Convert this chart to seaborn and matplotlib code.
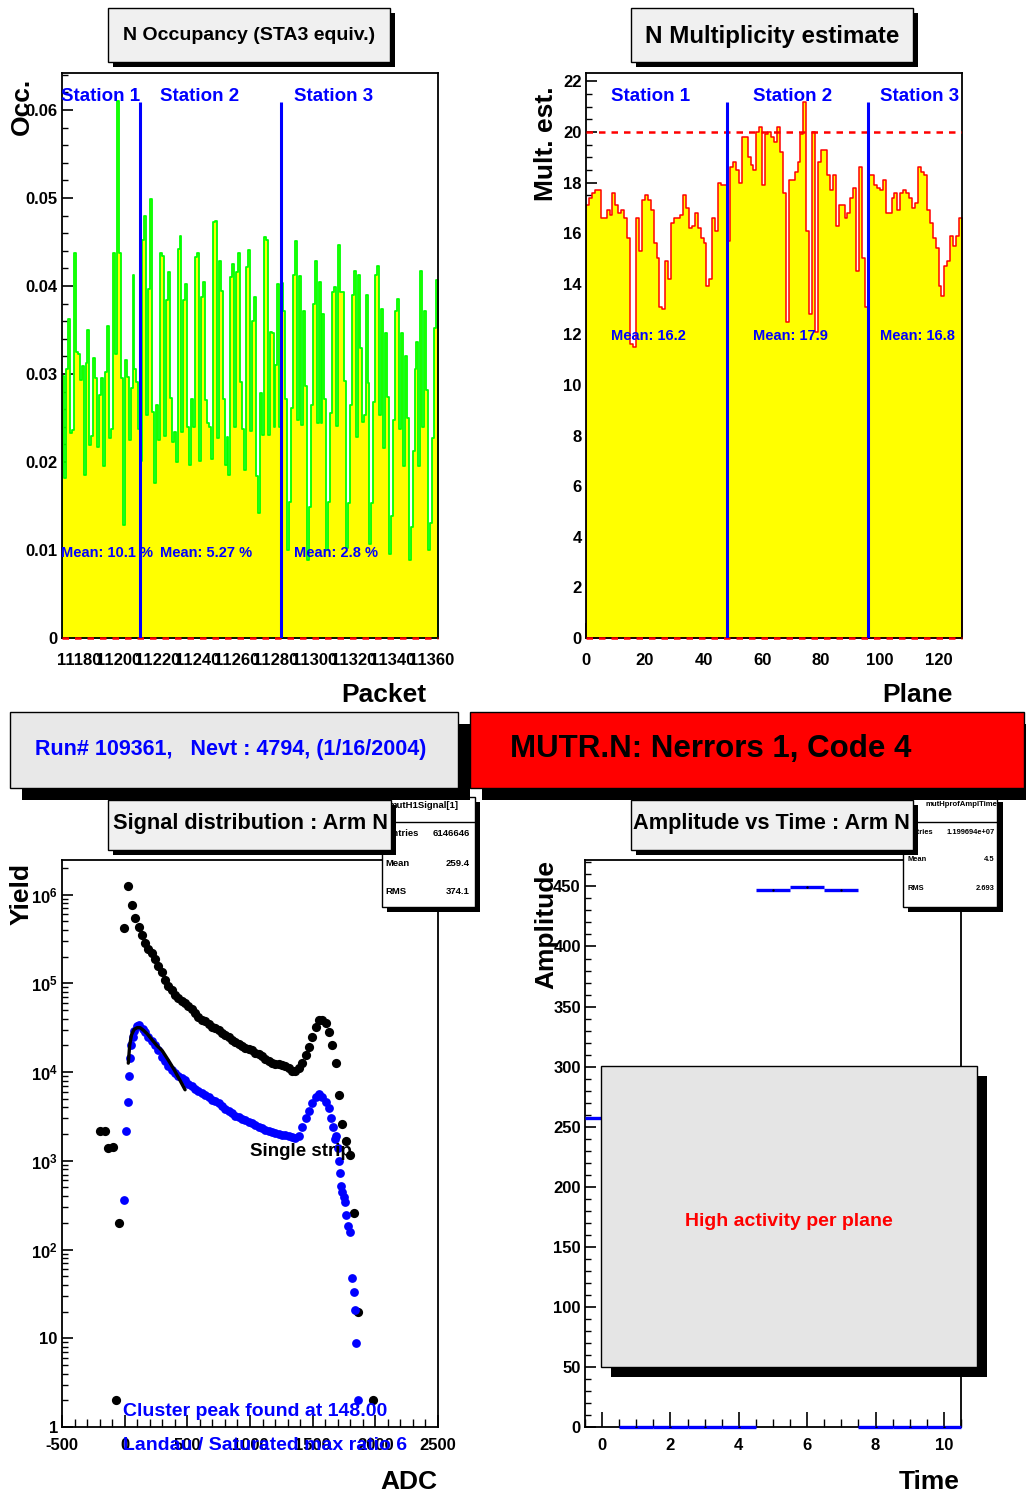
import numpy as np
import pandas as pd
import matplotlib
matplotlib.use("Agg")
import matplotlib.pyplot as plt
from matplotlib.patches import Rectangle
from matplotlib.ticker import MultipleLocator, FuncFormatter, LogLocator, NullFormatter
import seaborn as sns

# ---------------------------------------------------------------- data
# occupancy per packet, one list per station
first_packet = 11171
occ_sta1 = [0.0298, 0.0182, 0.0306, 0.0362, 0.0233, 0.0236, 0.0437, 0.0325, 0.0323, 0.0293,
            0.0309, 0.0185, 0.0312, 0.0350, 0.0219, 0.0230, 0.0318, 0.0295, 0.0217, 0.0276,
            0.0295, 0.0195, 0.0302, 0.0355, 0.0227, 0.0238, 0.0437, 0.0323, 0.0610, 0.0437,
            0.0295, 0.0128, 0.0316, 0.0297, 0.0225, 0.0284, 0.0413, 0.0306, 0.0291, 0.0238]
occ_sta2 = [0.0201, 0.0452, 0.0479, 0.0253, 0.0397, 0.0499, 0.0257, 0.0176, 0.0265, 0.0225,
            0.0438, 0.0434, 0.0230, 0.0384, 0.0416, 0.0273, 0.0223, 0.0234, 0.0200, 0.0442,
            0.0457, 0.0234, 0.0384, 0.0402, 0.0240, 0.0197, 0.0272, 0.0240, 0.0433, 0.0437,
            0.0201, 0.0388, 0.0404, 0.0270, 0.0244, 0.0240, 0.0203, 0.0473, 0.0474, 0.0227,
            0.0428, 0.0394, 0.0272, 0.0197, 0.0228, 0.0185, 0.0410, 0.0425, 0.0240, 0.0416,
            0.0438, 0.0291, 0.0238, 0.0191, 0.0422, 0.0441, 0.0235, 0.0360, 0.0388, 0.0184,
            0.0142, 0.0278, 0.0231, 0.0456, 0.0452, 0.0231, 0.0348, 0.0346, 0.0240, 0.0310,
            0.0402, 0.0240]
occ_sta3 = [0.0403, 0.0372, 0.0272, 0.0100, 0.0155, 0.0261, 0.0413, 0.0451, 0.0248, 0.0411,
            0.0242, 0.0371, 0.0286, 0.0089, 0.0149, 0.0265, 0.0380, 0.0428, 0.0244, 0.0405,
            0.0244, 0.0368, 0.0272, 0.0100, 0.0154, 0.0256, 0.0393, 0.0399, 0.0241, 0.0446,
            0.0393, 0.0393, 0.0292, 0.0102, 0.0153, 0.0265, 0.0390, 0.0417, 0.0228, 0.0413,
            0.0330, 0.0245, 0.0253, 0.0390, 0.0290, 0.0107, 0.0153, 0.0268, 0.0413, 0.0423,
            0.0253, 0.0374, 0.0216, 0.0346, 0.0274, 0.0096, 0.0139, 0.0248, 0.0371, 0.0385,
            0.0238, 0.0347, 0.0195, 0.0320, 0.0250, 0.0089, 0.0126, 0.0213, 0.0306, 0.0336,
            0.0196, 0.0417, 0.0240, 0.0372, 0.0282, 0.0100, 0.0131, 0.0227, 0.0352, 0.0407]
occ_station_means = ["Mean: 10.1 %", "Mean: 5.27 %", "Mean: 2.8 %"]

# multiplicity estimate per plane
mult_sta1 = [17.1, 17.4, 17.6, 17.7, 17.7, 16.6, 16.6, 16.9, 16.7, 17.6,
             17.1, 16.8, 16.9, 16.6, 15.8, 11.6, 11.5, 16.6, 15.3, 17.3,
             17.5, 17.3, 16.9, 15.6, 15.0, 13.1, 13.0, 14.9, 14.2, 16.4,
             16.6, 16.6, 16.7, 17.5, 17.0, 16.2, 16.3, 16.8, 16.2, 15.8,
             15.6, 13.9, 14.2, 16.6, 16.1, 18.0, 17.9, 17.9]
mult_sta2 = [15.7, 18.6, 18.8, 18.5, 18.0, 19.8, 19.8, 19.0, 18.7, 18.5,
             20.0, 20.2, 17.9, 19.9, 20.0, 19.8, 19.6, 20.2, 19.2, 17.6,
             12.5, 18.1, 18.1, 18.4, 18.8, 19.9, 21.2, 16.1, 12.8, 20.0,
             12.1, 18.8, 19.3, 19.3, 18.3, 17.7, 18.3, 16.3, 17.1, 17.1,
             16.6, 16.8, 17.4, 17.8, 14.5, 18.6, 15.0, 13.1]
mult_sta3 = [18.3, 18.3, 17.9, 17.8, 17.7, 18.1, 16.8, 16.8, 17.4, 17.6,
             16.9, 17.6, 17.7, 17.6, 17.4, 17.0, 17.2, 18.6, 18.4, 18.3,
             16.9, 16.4, 15.8, 15.4, 13.9, 13.5, 14.7, 14.9, 15.9, 15.5,
             15.9, 16.6]
mult_station_means = ["Mean: 16.2", "Mean: 17.9", "Mean: 16.8"]
mult_threshold = 20.0

# signal distribution: ADC bin and log10(yield)
strip_adc = [-197, -157, -130, -95, -69, -42, -5, 25, 57, 86, 117, 136, 163, 189, 216, 243,
             269, 296, 323, 349, 376, 403, 429, 456, 483, 509, 536, 563, 589, 616, 643, 669,
             696, 723, 749, 776, 803, 829, 856, 883, 909, 936, 963, 989, 1016, 1043, 1069,
             1096, 1123, 1149, 1176, 1203, 1229, 1256, 1283, 1309, 1336, 1363, 1389, 1416,
             1443, 1469, 1496, 1523, 1549, 1576, 1603, 1629, 1656, 1683, 1708, 1737, 1769,
             1801, 1833, 1859, 1981]
strip_log_yield = [3.33, 3.33, 3.14, 3.16, 0.30, 2.30, 5.62, 6.10, 5.88, 5.73, 5.63, 5.543,
                   5.45, 5.39, 5.337, 5.27, 5.20, 5.13, 5.036, 4.97, 4.92, 4.867, 4.83, 4.80,
                   4.78, 4.745, 4.706, 4.66, 4.62, 4.59, 4.57, 4.54, 4.51, 4.495, 4.47, 4.445,
                   4.42, 4.39, 4.365, 4.34, 4.315, 4.29, 4.275, 4.26, 4.245, 4.22, 4.20, 4.175,
                   4.15, 4.12, 4.105, 4.09, 4.085, 4.08, 4.07, 4.04, 4.01, 4.015, 4.041, 4.10,
                   4.19, 4.28, 4.40, 4.51, 4.585, 4.59, 4.55, 4.45, 4.30, 4.097, 3.74, 3.41,
                   3.22, 3.07, 2.41, 1.30, 0.30]
cluster_adc = [-3, 11, 27, 35, 43, 51, 64, 77, 96, 117, 144, 163, 189, 216, 243, 269, 296,
               323, 349, 376, 403, 429, 456, 483, 509, 536, 563, 589, 616, 643, 669, 696, 723,
               749, 776, 803, 829, 856, 883, 909, 936, 963, 989, 1016, 1043, 1069, 1096, 1123,
               1149, 1176, 1203, 1229, 1256, 1283, 1309, 1336, 1363, 1389, 1416, 1443, 1469,
               1496, 1523, 1549, 1576, 1603, 1627, 1646, 1662, 1675, 1688, 1699, 1710, 1715,
               1726, 1737, 1747, 1755, 1769, 1780, 1796, 1815, 1828, 1836, 1844, 1858]
cluster_log_yield = [2.56, 3.34, 3.66, 3.95, 4.16, 4.31, 4.40, 4.465, 4.52, 4.53, 4.49, 4.45,
                     4.39, 4.35, 4.30, 4.25, 4.17, 4.12, 4.07, 4.02, 3.99, 3.96, 3.93, 3.91,
                     3.87, 3.84, 3.81, 3.785, 3.76, 3.74, 3.72, 3.69, 3.675, 3.655, 3.62, 3.585,
                     3.56, 3.535, 3.51, 3.49, 3.475, 3.455, 3.44, 3.425, 3.40, 3.38, 3.365,
                     3.35, 3.335, 3.32, 3.31, 3.30, 3.29, 3.285, 3.275, 3.265, 3.255, 3.28,
                     3.38, 3.48, 3.56, 3.65, 3.72, 3.75, 3.72, 3.66, 3.59, 3.48, 3.38, 3.25,
                     3.28, 3.14, 3.00, 2.86, 2.72, 2.65, 2.59, 2.53, 2.39, 2.27, 2.20, 1.68,
                     1.52, 1.32, 0.95, 0.30]
landau_adc = [29, 40, 55, 75, 100, 123, 150, 180, 220, 256, 300, 350, 389, 440, 482]
landau_log_yield = [4.10, 4.30, 4.42, 4.48, 4.50, 4.50, 4.47, 4.43, 4.36, 4.30, 4.24, 4.13,
                    4.04, 3.91, 3.80]

# amplitude profile vs time sample
time_bins = [0, 1, 2, 3, 4, 5, 6, 7, 8, 9, 10]
ampl_mean = [257.0, 0, 0, 0, 0, 446.7, 449.2, 446.9, 0, 0, 0]

# ---------------------------------------------------------------- style
sns.set_theme(style="white")
plt.rcParams['font.family'] = ['Liberation Sans', 'DejaVu Sans']
plt.rcParams['font.weight'] = 'bold'
plt.rcParams['text.color'] = 'black'
plt.rcParams['axes.labelcolor'] = 'black'
plt.rcParams['xtick.color'] = 'black'
plt.rcParams['ytick.color'] = 'black'
plt.rcParams['axes.unicode_minus'] = False
plt.rcParams['mathtext.fontset'] = 'custom'
plt.rcParams['mathtext.rm'] = 'Liberation Sans:bold'
plt.rcParams['mathtext.bf'] = 'Liberation Sans:bold'
plt.rcParams['mathtext.it'] = 'Liberation Sans:bold'

W, H = 1026, 1495
fig = plt.figure(figsize=(W / 100, H / 100), dpi=100)
fig.patch.set_facecolor('white')

BLUE = '#0000ff'
RED = '#ff0000'
YELLOW = '#ffff00'
GREEN = '#00ff00'


def ax_px(x0, y0, x1, y1):
    return fig.add_axes([x0 / W, 1 - y1 / H, (x1 - x0) / W, (y1 - y0) / H])


def rect_px(x0, y0, x1, y1, face, edge='black', lw=1.0, z=5):
    r = Rectangle((x0 / W, 1 - y1 / H), (x1 - x0) / W, (y1 - y0) / H,
                  transform=fig.transFigure, facecolor=face, edgecolor=edge,
                  linewidth=lw, zorder=z)
    fig.add_artist(r)
    return r


def pave(x0, y0, x1, y1, face, dx=5, dy=5, z=5):
    rect_px(x0 + dx, y0 + dy, x1 + dx, y1 + dy, 'black', edge='none', lw=0, z=z)
    return rect_px(x0, y0, x1, y1, face, z=z + 0.1)


def text_px(x, y, s, z=7, **kw):
    kw.setdefault('color', 'black')
    return fig.text(x / W, 1 - y / H, s, zorder=z, **kw)


def style_axes(ax, xpad=8):
    for s in ax.spines.values():
        s.set_color('black')
        s.set_linewidth(1.3)
        s.set_visible(True)
    ax.set_facecolor('white')
    ax.grid(False)
    ax.tick_params(axis='both', which='both', direction='in', top=False, right=False,
                   bottom=True, left=True, colors='black', labelsize=12)
    ax.tick_params(axis='y', which='major', length=8, width=1.2, pad=3)
    ax.tick_params(axis='y', which='minor', length=4, width=1.0)
    ax.tick_params(axis='x', which='major', length=11, width=1.2, pad=xpad)
    ax.tick_params(axis='x', which='minor', length=5.5, width=1.0)
    ax.set_xlabel('')
    ax.set_ylabel('')


# ---------------------------------------------------------------- occupancy
occ = np.array(occ_sta1 + occ_sta2 + occ_sta3)
n_occ = len(occ)
occ_df = pd.DataFrame({'packet': first_packet + np.arange(n_occ) + 0.5, 'occupancy': occ})
occ_bounds = [first_packet + len(occ_sta1), first_packet + len(occ_sta1) + len(occ_sta2)]

ax1 = ax_px(62, 73, 438, 638)
sns.histplot(data=occ_df, x='packet', weights='occupancy', binwidth=1,
             binrange=(first_packet, first_packet + n_occ), element='step',
             fill=True, color=YELLOW, edgecolor=GREEN, linewidth=1.3, alpha=1, ax=ax1)
style_axes(ax1, xpad=10.5)
ax1.set_xlim(first_packet, first_packet + n_occ)
ax1.set_ylim(0, 0.0642)
ax1.xaxis.set_major_locator(MultipleLocator(20))
ax1.xaxis.set_minor_locator(MultipleLocator(20 / 6))
ax1.yaxis.set_major_locator(MultipleLocator(0.01))
ax1.yaxis.set_minor_locator(MultipleLocator(0.002))
ax1.yaxis.set_major_formatter(FuncFormatter(lambda v, p: '0' if abs(v) < 1e-9 else f'{v:.2f}'))
ax1.vlines(occ_bounds, 0, 0.0609, color=BLUE, linewidth=2.2, zorder=4)
ax1.axhline(0, color=RED, linewidth=1.8, dashes=(2.6, 2.4), zorder=3.5, clip_on=False)
occ_label_x = [first_packet - 0.5, occ_bounds[0] + 10, occ_bounds[1] + 6.4]
for i, xl in enumerate(occ_label_x):
    ax1.text(xl, 0.0615, f'Station {i + 1}', color=BLUE, fontsize=13.5,
             fontweight='bold', ha='left', va='center', zorder=5)
    ax1.text(xl, 0.00966, occ_station_means[i], color=BLUE, fontsize=10.5,
             fontweight='bold', ha='left', va='center', zorder=5)

# ---------------------------------------------------------------- multiplicity
mult = np.array(mult_sta1 + mult_sta2 + mult_sta3)
n_mult = len(mult)
mult_df = pd.DataFrame({'plane': np.arange(n_mult) + 0.5, 'multiplicity': mult})
mult_bounds = [len(mult_sta1), len(mult_sta1) + len(mult_sta2)]

ax2 = ax_px(586, 73, 962, 638)
sns.histplot(data=mult_df, x='plane', weights='multiplicity', binwidth=1,
             binrange=(0, n_mult), element='step',
             fill=True, color=YELLOW, edgecolor=RED, linewidth=1.1, alpha=1, ax=ax2)
style_axes(ax2, xpad=10.5)
ax2.set_xlim(0, n_mult)
ax2.set_ylim(0, 22.33)
ax2.xaxis.set_major_locator(MultipleLocator(20))
ax2.xaxis.set_minor_locator(MultipleLocator(5))
ax2.yaxis.set_major_locator(MultipleLocator(2))
ax2.yaxis.set_minor_locator(MultipleLocator(0.5))
ax2.vlines(mult_bounds, 0, 21.2, color=BLUE, linewidth=2.2, zorder=4)
ax2.axhline(mult_threshold, color=RED, linewidth=1.8, dashes=(2.6, 2.4), zorder=3.5)
ax2.axhline(0, color=RED, linewidth=1.8, dashes=(2.6, 2.4), zorder=3.5, clip_on=False)
mult_label_x = [8.5, mult_bounds[0] + 8.8, mult_bounds[1] + 4.0]
for i, xl in enumerate(mult_label_x):
    ax2.text(xl, 21.4, f'Station {i + 1}', color=BLUE, fontsize=13.5,
             fontweight='bold', ha='left', va='center', zorder=5)
    ax2.text(xl, 11.95, mult_station_means[i], color=BLUE, fontsize=10.5,
             fontweight='bold', ha='left', va='center', zorder=5)

# ---------------------------------------------------------------- signal distribution
strip_df = pd.DataFrame({'adc': strip_adc, 'yield': np.power(10.0, strip_log_yield)})
cluster_df = pd.DataFrame({'adc': cluster_adc, 'yield': np.power(10.0, cluster_log_yield)})
landau_df = pd.DataFrame({'adc': landau_adc, 'yield': np.power(10.0, landau_log_yield)})

ax3 = ax_px(62, 860, 438, 1427)
ax3.set_yscale('log')
sns.scatterplot(data=strip_df, x='adc', y='yield', color='black', s=44, linewidth=0,
                ax=ax3, zorder=3)
sns.scatterplot(data=cluster_df, x='adc', y='yield', color=BLUE, s=40, linewidth=0,
                ax=ax3, zorder=4)
sns.lineplot(data=landau_df, x='adc', y='yield', color='black', linewidth=2.4, ax=ax3, zorder=5)
style_axes(ax3)
ax3.set_xlim(-500, 2500)
ax3.set_ylim(1, 2.45e6)
ax3.xaxis.set_major_locator(MultipleLocator(500))
ax3.xaxis.set_minor_locator(MultipleLocator(100))
ax3.tick_params(axis='x', which='major', length=9)
ax3.tick_params(axis='x', which='minor', length=6)
ax3.yaxis.set_major_locator(LogLocator(base=10, numticks=10))
ax3.yaxis.set_minor_locator(LogLocator(base=10, subs=np.arange(2, 10), numticks=20))
ax3.yaxis.set_minor_formatter(NullFormatter())


def log_label(v, pos):
    e = int(round(np.log10(v)))
    if e == 0:
        return '1'
    if e == 1:
        return '10'
    return r'$\mathbf{10^{%d}}$' % e


ax3.yaxis.set_major_formatter(FuncFormatter(log_label))

# ---------------------------------------------------------------- amplitude vs time
ax4 = ax_px(585, 860, 961, 1427)
tb = np.array(time_bins, dtype=float)
ax4.hlines(ampl_mean, tb - 0.5, tb + 0.5, color=BLUE, linewidth=2.4, zorder=4, clip_on=False)
sns.scatterplot(x=time_bins, y=ampl_mean, color='black', s=3, linewidth=0, ax=ax4, zorder=5)
style_axes(ax4)
ax4.set_xlim(-0.5, 10.5)
ax4.set_ylim(0, 472)
ax4.xaxis.set_major_locator(MultipleLocator(2))
ax4.xaxis.set_minor_locator(MultipleLocator(0.5))
ax4.yaxis.set_major_locator(MultipleLocator(50))
ax4.yaxis.set_minor_locator(MultipleLocator(10))

# ---------------------------------------------------------------- axis titles
text_px(22, 78, 'Occ.', rotation=90, ha='center', va='top', fontsize=19, fontweight='bold')
text_px(546, 86, 'Mult. est.', rotation=90, ha='center', va='top', fontsize=19, fontweight='bold')
text_px(22, 863, 'Yield', rotation=90, ha='center', va='top', fontsize=19, fontweight='bold')
text_px(546, 860, 'Amplitude', rotation=90, ha='center', va='top', fontsize=19, fontweight='bold')
text_px(426, 695, 'Packet', ha='right', va='center', fontsize=19, fontweight='bold')
text_px(953, 695, 'Plane', ha='right', va='center', fontsize=19, fontweight='bold')
text_px(437, 1482, 'ADC', ha='right', va='center', fontsize=19, fontweight='bold')
text_px(960, 1482, 'Time', ha='right', va='center', fontsize=19, fontweight='bold')

# annotations inside the signal panel
text_px(250, 1152, 'Single strip', ha='left', va='center', fontsize=13.5,
        fontweight='bold', color='black', z=2)
text_px(123, 1411, 'Cluster peak found at 148.00', ha='left', va='center', fontsize=14,
        fontweight='bold', color=BLUE)
text_px(123, 1445, 'Landau / Saturated max ratio 6', ha='left', va='center', fontsize=14,
        fontweight='bold', color=BLUE)

# ---------------------------------------------------------------- title panes
pave(108, 8, 390, 62, '#f0f0f0', z=5)
text_px(249, 35, 'N Occupancy (STA3 equiv.)', ha='center', va='center', fontsize=14,
        fontweight='bold')
pave(631, 8, 913, 62, '#f0f0f0', z=5)
text_px(772, 37, 'N Multiplicity estimate', ha='center', va='center', fontsize=17.4,
        fontweight='bold')

# statistics boxes
rect_px(387, 802, 480, 912, 'black', edge='none', lw=0, z=6)
rect_px(382, 797, 475, 907, 'white', z=6.1)
fig.add_artist(plt.Line2D([382 / W, 475 / W], [1 - 822 / H, 1 - 822 / H],
                          transform=fig.transFigure, color='black', linewidth=1, zorder=6.2))
text_px(388, 806, 'mutH1Signal[1]', ha='left', va='center', fontsize=6.8, z=6.3)
text_px(386, 833, 'Entries', ha='left', va='center', fontsize=6.8, z=6.3)
text_px(470, 833, '6146646', ha='right', va='center', fontsize=6.8, z=6.3)
text_px(385, 863, 'Mean', ha='left', va='center', fontsize=6.8, z=6.3)
text_px(470, 863, '259.4', ha='right', va='center', fontsize=6.8, z=6.3)
text_px(385, 892, 'RMS', ha='left', va='center', fontsize=6.8, z=6.3)
text_px(470, 892, '374.1', ha='right', va='center', fontsize=6.8, z=6.3)

rect_px(908, 802, 1003, 912, 'black', edge='none', lw=0, z=6)
box_br = rect_px(903, 797, 997, 907, 'white', z=6.1)
fig.add_artist(plt.Line2D([903 / W, 997 / W], [1 - 822 / H, 1 - 822 / H],
                          transform=fig.transFigure, color='black', linewidth=1, zorder=6.2))
hdr = text_px(926, 805, 'mutHprofAmplTime[1]', ha='left', va='center', fontsize=5.6, z=6.3)
hdr.set_clip_path(box_br)
text_px(907, 832, 'Entries', ha='left', va='center', fontsize=5.4, z=6.3)
text_px(995, 832, '1.199694e+07', ha='right', va='center', fontsize=5.4, z=6.3)
text_px(907, 860, 'Mean', ha='left', va='center', fontsize=5.4, z=6.3)
text_px(995, 860, '4.5', ha='right', va='center', fontsize=5.4, z=6.3)
text_px(907, 889, 'RMS', ha='left', va='center', fontsize=5.4, z=6.3)
text_px(995, 889, '2.693', ha='right', va='center', fontsize=5.4, z=6.3)

# lower titles sit above the statistics boxes
bl_box = pave(108, 800, 391, 850, '#f0f0f0', z=7)
t = text_px(113, 823, 'Signal distribution : Arm N', ha='left', va='center', fontsize=15.7,
            fontweight='bold', z=7.5)
t.set_clip_path(bl_box)
br_box = pave(631, 800, 913, 850, '#f0f0f0', z=7)
t = text_px(633, 823, 'Amplitude vs Time : Arm N', ha='left', va='center', fontsize=15.7,
            fontweight='bold', z=7.5)
t.set_clip_path(br_box)

# run information and error banner
pave(10, 712, 458, 788, '#e8e8e8', dx=12, dy=12, z=8)
text_px(231, 750, 'Run# 109361,   Nevt : 4794, (1/16/2004)', ha='center', va='center',
        fontsize=15.5, fontweight='bold', color=BLUE, z=9)
pave(470, 712, 1024, 788, RED, dx=12, dy=12, z=8.5)
text_px(711, 749, 'MUTR.N: Nerrors 1, Code 4', ha='center', va='center', fontsize=22.5,
        fontweight='bold', color='black', z=9)

# activity warning pane over the amplitude panel
pave(601, 1066, 977, 1367, '#e5e5e5', dx=10, dy=10, z=8)
text_px(789, 1222, 'High activity per plane', ha='center', va='center', fontsize=14,
        fontweight='bold', color=RED, z=9)

fig.savefig('out.png', dpi=100, facecolor='white')
